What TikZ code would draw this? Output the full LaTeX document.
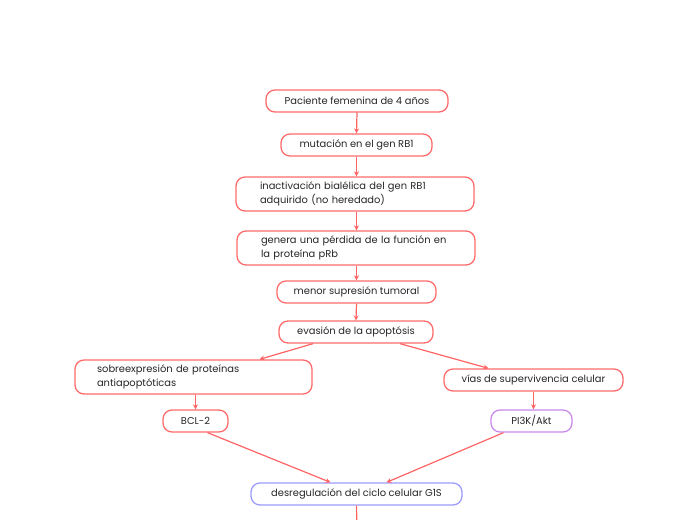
\documentclass[tikz,border=0pt]{standalone}
\usepackage{fontspec}
\setmainfont{Poppins}
\usetikzlibrary{arrows.meta,calc}
\definecolor{redb}{HTML}{FF6B6B}
\definecolor{purp}{HTML}{C98AEB}
\definecolor{blup}{HTML}{9C9CFF}
\definecolor{arr}{HTML}{FF6464}
\begin{document}
\begin{tikzpicture}[x=1pt,y=-1pt,
  box/.style={draw=redb,line width=1.3pt,rounded corners=9pt,fill=white,font=\fontsize{9.9}{14}\selectfont,text=black!85,inner sep=0pt,anchor=center},
  conn/.style={draw=arr,line width=1.2pt,-{Stealth[length=5pt,width=5pt]}}]
\useasboundingbox (0,0) rectangle (697,520);
\node[box,minimum width=182pt,minimum height=22pt] (n1) at (357,101) {Paciente femenina de 4 años};
\node[box,minimum width=151pt,minimum height=22pt] (n2) at (356.5,145) {mutación en el gen RB1};
\node[box,minimum width=238pt,minimum height=34pt,text width=190pt,align=left] (n3) at (355,194) {inactivación bialélica del gen RB1\\adquirido (no heredado)};
\node[box,minimum width=238pt,minimum height=34pt,text width=190pt,align=left] (n4) at (356,248) {genera una pérdida de la función en\\la proteína pRb};
\node[box,minimum width=237pt,minimum height=34pt,text width=193pt,align=left] (n7) at (193.5,377) {sobreexpresión de proteínas\\antiapoptóticas};
\node[box,minimum width=159pt,minimum height=22pt] (n5) at (356.5,292) {menor supresión tumoral};
\node[box,minimum width=154pt,minimum height=22pt] (n6) at (356,332) {evasión de la apoptósis};
\node[box,minimum width=179pt,minimum height=22pt] (n8) at (533.5,380) {vías de supervivencia celular};
\node[box,minimum width=65pt,minimum height=22pt] (n9) at (195.5,421) {BCL-2};
\node[box,draw=purp,minimum width=81pt,minimum height=22pt] (n10) at (531.5,421) {PI3K/Akt};
\node[box,draw=blup,minimum width=211pt,minimum height=22pt] (n11) at (356.5,494) {desregulación del ciclo celular G1S};
\coordinate (end) at (357,530);
\draw[conn] (n1.south) -- (n2.north);
\draw[conn] (n2.south) -- (n3.north -| n2.south);
\draw[conn] (n3.south -| n2.south) -- (n4.north -| n2.south);
\draw[conn] (n4.south -| n2.south) -- (n5.north);
\draw[conn] (n5.south) -- (n6.north);
\draw[conn] ($(n6.south)+(-43,0)$) -- ($(n7.north)+(66,0)$);
\draw[conn] ($(n6.south)+(44,0)$) -- ($(n8.north)+(-45,0)$);
\draw[conn] (n7.south -| n9.north) -- (n9.north);
\draw[conn] (n8.south) -- (n8.south |- n10.north);
\draw[conn] ($(n9.south)+(12,0)$) -- ($(n11.north)+(-26,0)$);
\draw[conn] ($(n10.south)+(-28,0)$) -- ($(n11.north)+(30,0)$);
\draw[conn] (n11.south) -- (end);
\end{tikzpicture}
\end{document}
